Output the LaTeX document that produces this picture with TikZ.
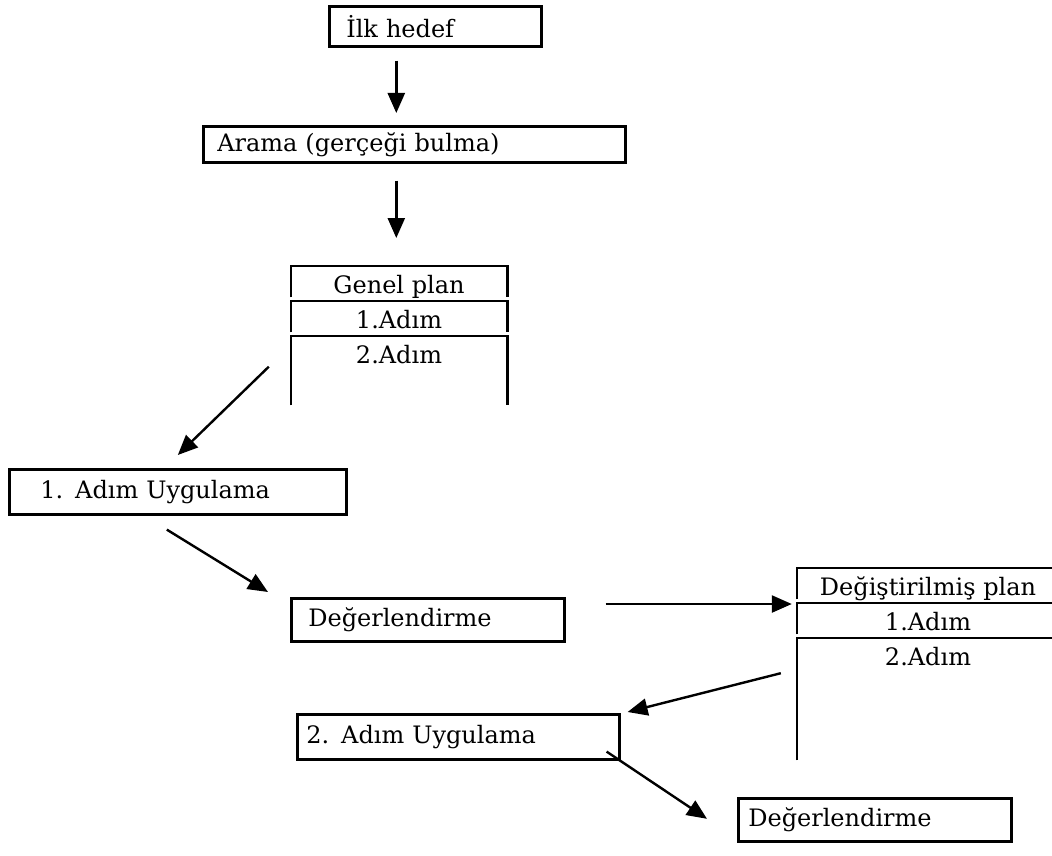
\documentclass[tikz,border=0pt]{standalone}
\usepackage{fontspec}
\setmainfont{DejaVu Serif}
\usetikzlibrary{calc, arrows.meta}

\begin{document}
\begin{tikzpicture}[x=1pt, y=-1pt,
	kutu/.style={draw, line width=2.6pt, anchor=north west, align=left, inner ysep=0pt, font=\fontsize{24}{28}\selectfont},
	satir/.style={anchor=north, inner sep=0pt, text height=27pt, align=center, font=\fontsize{24}{28}\selectfont},
	cerceve/.style={line width=2.6pt},
	ok/.style={line width=2.4pt, -{Triangle[length=20pt, width=17pt]}}]
	% Page size
	\clip (0,0) rectangle (1052,856);
	
	% Draw boxes
	\node[kutu, minimum height=40pt, text width=178pt, inner xsep=17pt] (ilk) at (328,5) {İlk hedef};
	\node[kutu, minimum height=36pt, text width=394pt, inner xsep=14pt] (arama) at (202,125) {Arama (gerçeği bulma)};
	\node[kutu, minimum height=45pt, text width=275pt, inner xsep=31pt] (u1) at (8,468) {1. Adım Uygulama};
	\node[kutu, minimum height=43pt, text width=239pt, inner xsep=17pt] (e1) at (290,597) {Değerlendirme};
	\node[kutu, minimum height=45pt, text width=304pt, inner xsep=9pt] (u2) at (296,713) {2. Adım Uygulama};
	\node[kutu, minimum height=43pt, text width=253pt, inner xsep=10pt] (e2) at (737,797) {Değerlendirme};
	
	% Plan tables
	\node[satir, minimum width=216pt, text depth=4pt] (g1) at (399,266) {Genel plan};
	\node[satir, minimum width=216pt, text depth=4pt] (g2) at (399,301) {1.Adım};
	\node[satir, minimum width=216pt, text depth=42pt] (g3) at (399,336) {2.Adım};
	
	\node[satir, minimum width=262pt, text depth=4pt] (d1) at (928,568) {Değiştirilmiş plan};
	\node[satir, minimum width=262pt, text depth=4pt] (d2) at (928,603) {1.Adım};
	\node[satir, minimum width=262pt, text depth=95pt] (d3) at (928,638) {2.Adım};
	
	\foreach \r in {g1,g2,g3,d1,d2,d3}
	\draw[cerceve] (\r.south west) -- (\r.north west) -- (\r.north east) -- (\r.south east);
	
	% Draw arrows
	\draw[ok] ($(ilk.south)+(-39,13)$) -- ($(arama.north)+(-18,-12)$);
	\draw[ok] ($(arama.south)+(-18,17)$) -- ($(g1.north)+(-2.7,-28)$);
	\draw[ok] ($(g3.west)+(-22,-4)$) -- ($(u1.north)+(0,-13)$);
	\draw[ok] ($(u1.south)+(-11,14)$) -- ($(e1.north west)+(-22,-5)$);
	\draw[ok] ($(e1.east)+(40,-15.8)$) -- ($(d2.north west)+(-5,1)$);
	\draw[ok] ($(d3.west)+(-16,-26)$) -- ($(u2.north east)+(7,-1)$);
	\draw[ok] ($(u2.south east)+(-14,-9)$) -- ($(e2.west)+(-30,-1)$);
	
\end{tikzpicture}
\end{document}
